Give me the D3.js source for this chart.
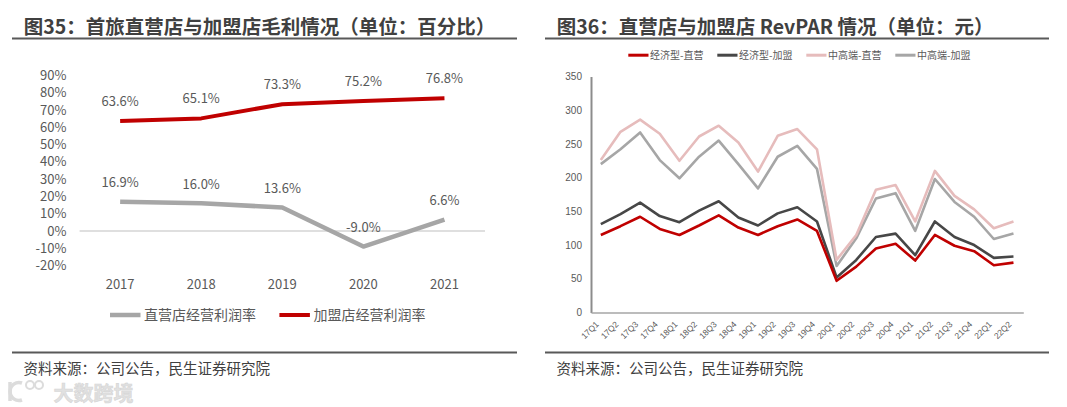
<!DOCTYPE html>
<html>
<head>
<meta charset="utf-8">
<script src="https://cdn.jsdelivr.net/npm/d3@7"></script>
<style>
  html, body { margin: 0; padding: 0; background: #fff; }
  svg { display: block; font-family: "Noto Sans CJK SC", "Noto Sans", sans-serif; }
</style>
</head>
<body>
<svg id="chart" width="1067" height="407"></svg>
<script>
/* ── DATA ───────────────────────────────────────────────────────────────────── */
const YEARS            = ['2017', '2018', '2019', '2020', '2021'];
const DIRECT_MARGIN    = [16.9, 16.0, 13.6, -9.0, 6.6];
const FRANCHISE_MARGIN = [63.6, 65.1, 73.3, 75.2, 76.8];
const MARGIN_TICKS     = [-20, -10, 0, 10, 20, 30, 40, 50, 60, 70, 80, 90];

const QUARTERS = ['17Q1', '17Q2', '17Q3', '17Q4', '18Q1', '18Q2', '18Q3', '18Q4',
                  '19Q1', '19Q2', '19Q3', '19Q4', '20Q1', '20Q2', '20Q3', '20Q4',
                  '21Q1', '21Q2', '21Q3', '21Q4', '22Q1', '22Q2'];
const ECO_DIRECT    = [115, 128, 142, 124, 115, 129, 144, 126, 115, 128, 138, 121, 47, 68, 95, 102, 77, 115, 99, 91, 70, 74];
const ECO_FRANCHISE = [131, 146, 163, 143, 134, 151, 165, 141, 129, 147, 156, 135, 52, 78, 112, 117, 85, 135, 112, 100, 81, 83];
const MID_DIRECT    = [226, 268, 286, 265, 225, 261, 277, 252, 209, 262, 272, 242, 78, 115, 182, 189, 135, 210, 173, 153, 125, 135];
const MID_FRANCHISE = [220, 242, 267, 226, 199, 231, 255, 220, 184, 231, 247, 213, 69, 110, 169, 177, 121, 198, 164, 142, 109, 117];
const REVPAR_TICKS  = [0, 50, 100, 150, 200, 250, 300, 350];

/* ── CONSTANTS ──────────────────────────────────────────────────────────────── */
const TEXT_DARK = '#404040';
const TEXT_MID  = '#595959';
const RED       = '#C00000';

const svg = d3.select('#chart');

/* ── PANEL FRAME (titles, rules, source) ────────────────────────────────────── */
const PANELS = [
  { x0: 12,  x1: 517,  title: '图35：首旅直营店与加盟店毛利情况（单位：百分比）' },
  { x0: 545, x1: 1049, title: '图36：直营店与加盟店 RevPAR 情况（单位：元）' }
];

PANELS.forEach(p => {
  svg.append('text')
    .attr('x', p.x0 + 11.8)
    .attr('y', 34)
    .attr('fill', TEXT_DARK)
    .attr('font-size', 19.5)
    .attr('font-weight', 700)
    .text(p.title);

  svg.append('line')
    .attr('x1', p.x0).attr('x2', p.x1)
    .attr('y1', 38.5).attr('y2', 38.5)
    .attr('stroke', '#595959').attr('stroke-width', 2);

  svg.append('line')
    .attr('x1', p.x0).attr('x2', p.x1)
    .attr('y1', 352.5).attr('y2', 352.5)
    .attr('stroke', '#595959').attr('stroke-width', 2);

  svg.append('text')
    .attr('x', p.x0 + 11.5)
    .attr('y', 374)
    .attr('fill', TEXT_DARK)
    .attr('font-size', 14.5)
    .text('资料来源：公司公告，民生证券研究院');
});

/* ── LEFT CHART: operating margin ───────────────────────────────────────────── */
const xM = d3.scaleBand().domain(YEARS).range([79.6, 485]);
const yM = d3.scaleLinear().domain([-20, 90]).range([265.6, 75.3]);
const cx = d => xM(d) + xM.bandwidth() / 2;

const left = svg.append('g');

left.selectAll('.m-tick')
  .data(MARGIN_TICKS)
  .join('text')
  .attr('class', 'm-tick')
  .attr('x', 66.5)
  .attr('y', d => yM(d))
  .attr('dy', '0.36em')
  .attr('text-anchor', 'end')
  .attr('font-size', 13)
  .attr('fill', TEXT_MID)
  .text(d => d + '%');

left.append('line')
  .attr('x1', xM.range()[0]).attr('x2', xM.range()[1])
  .attr('y1', yM(0)).attr('y2', yM(0))
  .attr('stroke', '#bfbfbf').attr('stroke-width', 1);

left.selectAll('.m-year')
  .data(YEARS)
  .join('text')
  .attr('class', 'm-year')
  .attr('x', cx)
  .attr('y', 284.3)
  .attr('dy', '0.36em')
  .attr('text-anchor', 'middle')
  .attr('font-size', 13)
  .attr('fill', TEXT_MID)
  .text(d => d);

const marginSeries = [
  { name: '直营店经营利润率', values: DIRECT_MARGIN,    color: '#A6A6A6', width: 4.5, off: 19 },
  { name: '加盟店经营利润率', values: FRANCHISE_MARGIN, color: RED,       width: 4,   off: 20 }
];

const lineM = d3.line()
  .x((v, i) => cx(YEARS[i]))
  .y(v => yM(v));

marginSeries.forEach(s => {
  left.append('path')
    .attr('d', lineM(s.values))
    .attr('fill', 'none')
    .attr('stroke', s.color)
    .attr('stroke-width', s.width)
    .attr('stroke-linejoin', 'round');

  left.selectAll(null)
    .data(s.values)
    .join('text')
    .attr('x', (v, i) => cx(YEARS[i]))
    .attr('y', v => yM(v) - s.off)
    .attr('dy', '0.36em')
    .attr('text-anchor', 'middle')
    .attr('font-size', 13)
    .attr('fill', TEXT_MID)
    .text(v => v.toFixed(1) + '%');
});

// legend
const legM = left.selectAll('.m-leg')
  .data(marginSeries)
  .join('g')
  .attr('class', 'm-leg')
  .attr('transform', (d, i) => `translate(${110 + i * 169.4},315)`);

legM.append('line')
  .attr('x1', 0).attr('x2', 30.5)
  .attr('stroke', d => d.color)
  .attr('stroke-width', d => d.width);

legM.append('text')
  .attr('x', 34)
  .attr('dy', '0.36em')
  .attr('font-size', 14)
  .attr('fill', TEXT_MID)
  .text(d => d.name);

/* ── RIGHT CHART: RevPAR ────────────────────────────────────────────────────── */
const xR = d3.scaleBand().domain(QUARTERS).range([591, 1023.3]);
const yR = d3.scaleLinear().domain([0, 350]).range([312.5, 76.5]);
const qx = d => xR(d) + xR.bandwidth() / 2;

const right = svg.append('g');

const yAxis = right.append('g')
  .attr('transform', 'translate(591,0)')
  .call(d3.axisLeft(yR).tickValues(REVPAR_TICKS).tickSize(0).tickPadding(9));
yAxis.select('.domain').attr('stroke', '#8c8c8c').attr('stroke-width', 2);
yAxis.selectAll('text')
  .attr('font-family', null)
  .attr('font-size', 10)
  .attr('fill', TEXT_MID);

const xAxis = right.append('g')
  .attr('transform', `translate(0,${yR(0)})`)
  .call(d3.axisBottom(xR).tickSize(0).tickSizeOuter(0));
xAxis.select('.domain').attr('stroke', '#a6a6a6').attr('stroke-width', 1.5);
xAxis.selectAll('text')
  .attr('font-family', null)
  .attr('font-size', 8.5)
  .attr('fill', TEXT_MID)
  .attr('text-anchor', 'end')
  .attr('x', 0).attr('y', 0).attr('dy', '0.35em')
  .attr('transform', 'translate(-3.5,10.3) rotate(-45)');

const revparSeries = [
  { name: '经济型-直营', values: ECO_DIRECT,    color: RED },
  { name: '经济型-加盟', values: ECO_FRANCHISE, color: '#474747' },
  { name: '中高端-直营', values: MID_DIRECT,    color: '#E6BCBC' },
  { name: '中高端-加盟', values: MID_FRANCHISE, color: '#A6A6A6' }
];

const lineR = d3.line()
  .x((v, i) => qx(QUARTERS[i]))
  .y(v => yR(v));

// draw back to front so the red series sits on top, as in the original
[...revparSeries].reverse().forEach(s => {
  right.append('path')
    .attr('d', lineR(s.values))
    .attr('fill', 'none')
    .attr('stroke', s.color)
    .attr('stroke-width', 2.6)
    .attr('stroke-linejoin', 'round');
});

const legR = right.selectAll('.r-leg')
  .data(revparSeries)
  .join('g')
  .attr('class', 'r-leg')
  .attr('transform', (d, i) => `translate(${628.3 + i * 89},55.2)`);

legR.append('line')
  .attr('x1', 0).attr('x2', 20.2)
  .attr('stroke', d => d.color)
  .attr('stroke-width', 3);

legR.append('text')
  .attr('x', 21.8)
  .attr('dy', '0.36em')
  .attr('font-size', 10)
  .attr('fill', TEXT_MID)
  .text(d => d.name);

/* ── WATERMARK ──────────────────────────────────────────────────────────────── */
const wm = svg.append('g').attr('opacity', 0.85);
wm.append('path')
  .attr('d', 'M22,383 A9,9 0 1,0 22,400')
  .attr('fill', 'none').attr('stroke', '#d6d6d6').attr('stroke-width', 3.5);
wm.append('path')
  .attr('d', 'M10,382 L10,401')
  .attr('stroke', '#d6d6d6').attr('stroke-width', 3.5);
[[30, 385], [39, 385]].forEach(([x, y]) => {
  wm.append('circle').attr('cx', x).attr('cy', y).attr('r', 4)
    .attr('fill', 'none').attr('stroke', '#d6d6d6').attr('stroke-width', 2);
});
wm.append('text')
  .attr('x', 53.5)
  .attr('y', 400.5)
  .attr('font-size', 20)
  .attr('font-weight', 700)
  .attr('fill', '#dcdcdc')
  .attr('stroke', '#cfcfcf')
  .attr('stroke-width', 0.6)
  .text('大数跨境');
</script>
</body>
</html>
